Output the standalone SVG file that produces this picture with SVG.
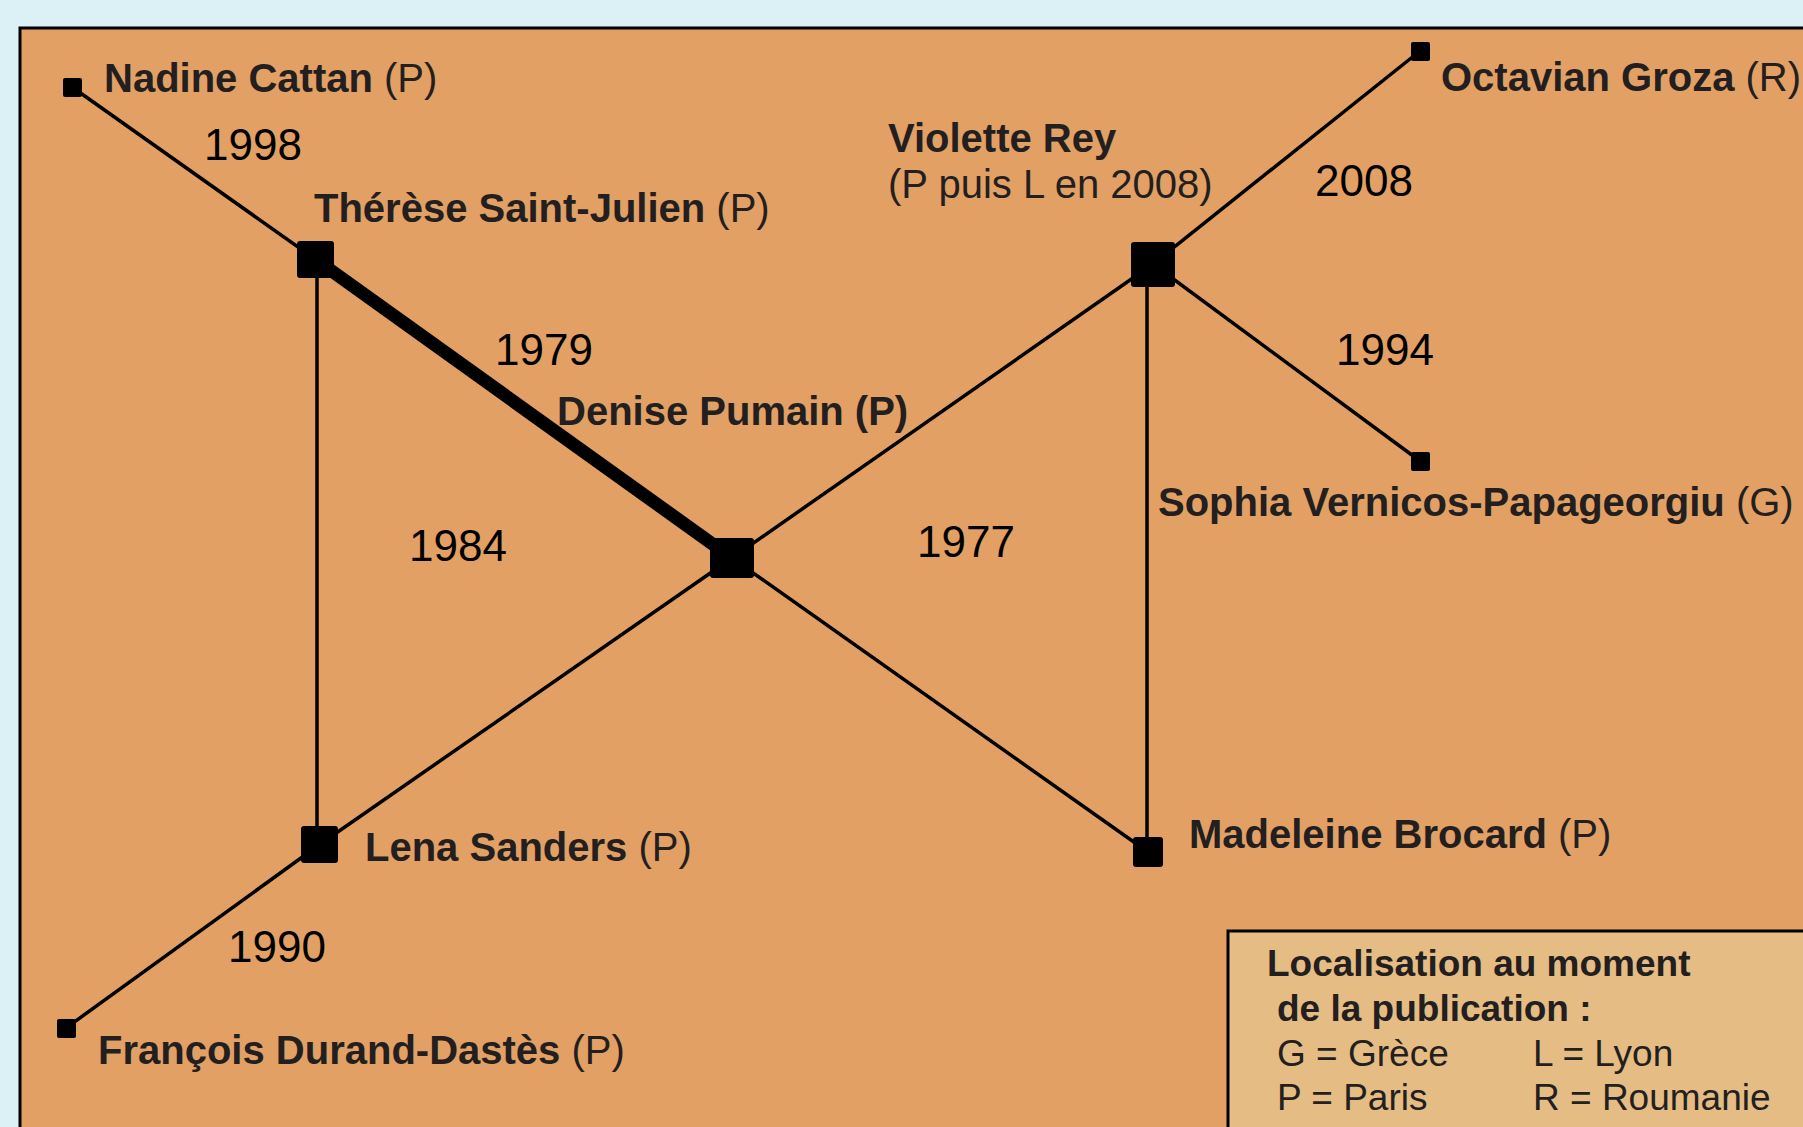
<svg xmlns="http://www.w3.org/2000/svg" width="1803" height="1127" viewBox="0 0 1803 1127">
<style>
.bg{fill:#DCF1F6}
.panel{fill:#E2A064;stroke:#000;stroke-width:3}
.legend{fill:#E5BC83;stroke:#000;stroke-width:3}
.e{stroke:#000;stroke-width:3.5;fill:none}
.thick{stroke:#000;stroke-width:13;fill:none}
.n{fill:#000}
.b{font-family:"Liberation Sans",Arial,sans-serif;font-weight:bold;font-size:40px;fill:#231F20}
.r{font-weight:normal}
.y{font-family:"Liberation Sans",Arial,sans-serif;font-size:44px;fill:#000}
.lb{font-family:"Liberation Sans",Arial,sans-serif;font-weight:bold;font-size:37px;fill:#231F20}
.lr{font-family:"Liberation Sans",Arial,sans-serif;font-size:37px;fill:#231F20}
</style>
<rect class="bg" x="0" y="0" width="1803" height="1127"/>
<rect class="panel" x="20" y="28" width="1800" height="1120"/>

<g id="connectors">
<line class="e" x1="72" y1="87" x2="315" y2="259"/>
<line class="thick" x1="315" y1="259" x2="732" y2="558"/>
<line class="e" x1="317" y1="259" x2="317" y2="845"/>
<line class="e" x1="319" y1="845" x2="732" y2="558"/>
<line class="e" x1="319" y1="845" x2="66" y2="1028"/>
<line class="e" x1="732" y1="558" x2="1153" y2="264"/>
<line class="e" x1="732" y1="558" x2="1148" y2="852"/>
<line class="e" x1="1153" y1="264" x2="1420" y2="51"/>
<line class="e" x1="1153" y1="264" x2="1420" y2="461"/>
<line class="e" x1="1147" y1="264" x2="1147" y2="852"/>
</g>

<g id="edge-labels">
<text class="y" x="204" y="160">1998</text>
<text class="y" x="495" y="365">1979</text>
<text class="y" x="409" y="561">1984</text>
<text class="y" x="917" y="557">1977</text>
<text class="y" x="1315" y="196">2008</text>
<text class="y" x="1336" y="365">1994</text>
<text class="y" x="228" y="962">1990</text>
</g>

<g id="nadine">
<rect class="n" x="63" y="78" width="19" height="19" rx="2"/>
<text class="b" x="104" y="92">Nadine Cattan<tspan class="r"> (P)</tspan></text>
</g>
<g id="therese">
<rect class="n" x="297" y="241" width="37" height="37" rx="3"/>
<text class="b" x="314" y="222">Thérèse Saint-Julien<tspan class="r"> (P)</tspan></text>
</g>
<g id="denise">
<rect class="n" x="710" y="538" width="44" height="40" rx="3"/>
<text class="b" x="557" y="425">Denise Pumain (P)</text>
</g>
<g id="violette">
<rect class="n" x="1131" y="242" width="44" height="45" rx="3"/>
<text class="b" x="888" y="152">Violette Rey</text>
<text class="b r" x="888" y="198">(P puis L en 2008)</text>
</g>
<g id="octavian">
<rect class="n" x="1411" y="42" width="19" height="19" rx="2"/>
<text class="b" x="1441" y="91">Octavian Groza<tspan class="r"> (R)</tspan></text>
</g>
<g id="sophia">
<rect class="n" x="1411" y="452" width="19" height="19" rx="2"/>
<text class="b" x="1158" y="516">Sophia Vernicos-Papageorgiu<tspan class="r"> (G)</tspan></text>
</g>
<g id="lena">
<rect class="n" x="301" y="826" width="37" height="37" rx="3"/>
<text class="b" x="365" y="861">Lena Sanders<tspan class="r"> (P)</tspan></text>
</g>
<g id="francois">
<rect class="n" x="57" y="1019" width="19" height="19" rx="2"/>
<text class="b" x="98" y="1064">François Durand-Dastès<tspan class="r"> (P)</tspan></text>
</g>
<g id="madeleine">
<rect class="n" x="1133" y="837" width="30" height="30" rx="3"/>
<text class="b" x="1189" y="848">Madeleine Brocard<tspan class="r"> (P)</tspan></text>
</g>

<g id="legend">
<rect class="legend" x="1228" y="931" width="600" height="220"/>
<text class="lb" x="1267" y="976">Localisation au moment</text>
<text class="lb" x="1277" y="1021">de la publication :</text>
<text class="lr" x="1277" y="1066">G = Grèce</text>
<text class="lr" x="1533" y="1066">L = Lyon</text>
<text class="lr" x="1277" y="1110">P = Paris</text>
<text class="lr" x="1533" y="1110">R = Roumanie</text>
</g>
</svg>
